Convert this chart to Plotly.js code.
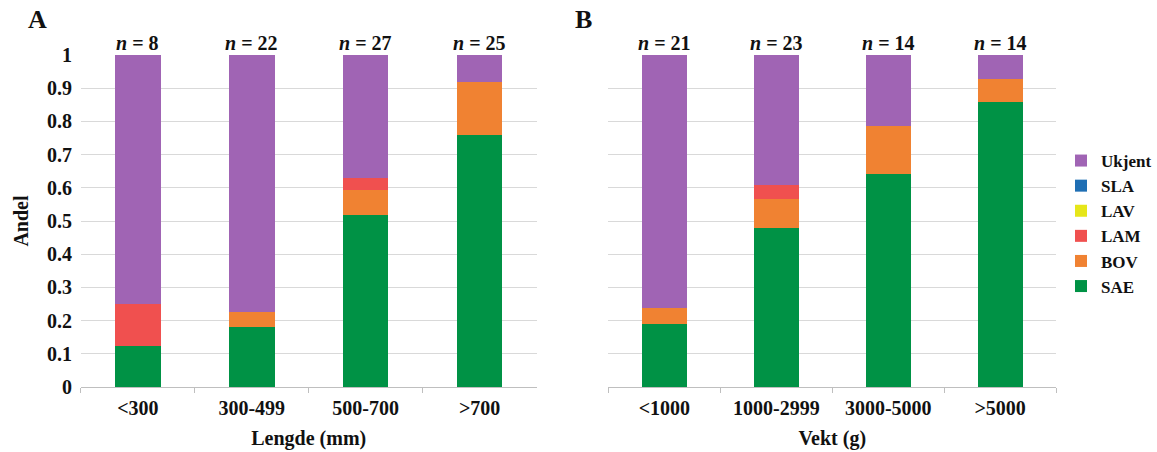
<!DOCTYPE html>
<html><head><meta charset="utf-8">
<script src="https://cdn.plot.ly/plotly-3.0.1.min.js"></script>
<style>body{margin:0;background:#fff}#c{width:1157px;height:452px}</style>
</head><body><div id="c"></div>
<script>
const catsA = ['<300','300-499','500-700','>700'];
const catsB = ['<1000','1000-2999','3000-5000','>5000'];
const nA = [8,22,27,25];
const nB = [21,23,14,14];
const seriesNames = ['SAE','BOV','LAM','LAV','SLA','Ukjent'];
const colors = ['#009245','#F08232','#F0504F','#E6E619','#1F6FB4','#A064B4'];
const SAE_A = [0.125,0.182,0.519,0.76];
const BOV_A = [0,0.045,0.074,0.16];
const LAM_A = [0.125,0,0.037,0];
const LAV_A = [0,0,0,0];
const SLA_A = [0,0,0,0];
const UKJ_A = [0.75,0.773,0.370,0.08];
const SAE_B = [0.19,0.478,0.643,0.857];
const BOV_B = [0.048,0.087,0.143,0.071];
const LAM_B = [0,0.043,0,0];
const LAV_B = [0,0,0,0];
const SLA_B = [0,0,0,0];
const UKJ_B = [0.762,0.391,0.214,0.071];
const dataA = [SAE_A,BOV_A,LAM_A,LAV_A,SLA_A,UKJ_A];
const dataB = [SAE_B,BOV_B,LAM_B,LAV_B,SLA_B,UKJ_B];

const font = 'Liberation Serif, Times New Roman, serif';
const traces = [];
seriesNames.forEach((nm,i)=>{
  traces.push({type:'bar',x:catsA,y:dataA[i],name:'<b>'+nm+'</b>',marker:{color:colors[i]},xaxis:'x',yaxis:'y',legendgroup:nm,showlegend:true});
  traces.push({type:'bar',x:catsB,y:dataB[i],name:'<b>'+nm+'</b>',marker:{color:colors[i]},xaxis:'x2',yaxis:'y2',legendgroup:nm,showlegend:false});
});

const annotations = [];
catsA.forEach((c,i)=>annotations.push({xref:'x',yref:'y',x:c,y:1,yanchor:'bottom',yshift:-1,text:'<b><i>n</i> = '+nA[i]+'</b>',showarrow:false,font:{family:font,size:20,color:'#111'}}));
catsB.forEach((c,i)=>annotations.push({xref:'x2',yref:'y2',x:c,y:1,yanchor:'bottom',yshift:-1,text:'<b><i>n</i> = '+nB[i]+'</b>',showarrow:false,font:{family:font,size:20,color:'#111'}}));
annotations.push({xref:'paper',yref:'paper',x:38/1157,y:1-20/452,xanchor:'center',yanchor:'middle',text:'<b>A</b>',showarrow:false,font:{family:font,size:26,color:'#111'}});
annotations.push({xref:'paper',yref:'paper',x:584/1157,y:1-20/452,xanchor:'center',yanchor:'middle',text:'<b>B</b>',showarrow:false,font:{family:font,size:26,color:'#111'}});

const ax = {tickfont:{family:font,size:20,color:'#111'},showline:true,linecolor:'#bfbfbf',linewidth:1,ticks:'outside',tickson:'boundaries',tickcolor:'#bfbfbf',ticklen:5,showgrid:false,tickprefix:'<b>',ticksuffix:'</b>',ticklabelstandoff:3};
const yax = {range:[0,1],dtick:0.1,showgrid:true,gridcolor:'#d9d9d9',zeroline:false,showline:false,tickfont:{family:font,size:20,color:'#111'},ticks:'',ticklabelstandoff:8};
const layout = {
  width:1157,height:452,barmode:'stack',bargap:0.6,
  paper_bgcolor:'#fff',plot_bgcolor:'#fff',
  margin:{l:0,r:0,t:0,b:0},
  font:{family:font,color:'#111'},
  xaxis:Object.assign({},ax,{domain:[81/1157,537/1157],anchor:'y',title:{text:'<b>Lengde (mm)</b>',font:{family:font,size:20},standoff:12}}),
  yaxis:Object.assign({},yax,{domain:[1-387/452,1-55/452],anchor:'x',title:{text:'<b>Andel</b>',font:{family:font,size:20},standoff:12},tickprefix:'<b>',ticksuffix:'</b>'}),
  xaxis2:Object.assign({},ax,{domain:[609/1157,1057/1157],anchor:'y2',title:{text:'<b>Vekt (g)</b>',font:{family:font,size:20},standoff:12}}),
  yaxis2:Object.assign({},yax,{domain:[1-387/452,1-55/452],anchor:'x2',showticklabels:false}),
  legend:{x:1062/1157,y:1-143/452,xanchor:'left',yanchor:'top',traceorder:'reversed',font:{family:font,size:17,color:'#111'},itemwidth:30,tracegroupgap:0},
  annotations:annotations,showlegend:true
};
Plotly.newPlot('c',traces,layout,{staticPlot:true});
</script></body></html>
